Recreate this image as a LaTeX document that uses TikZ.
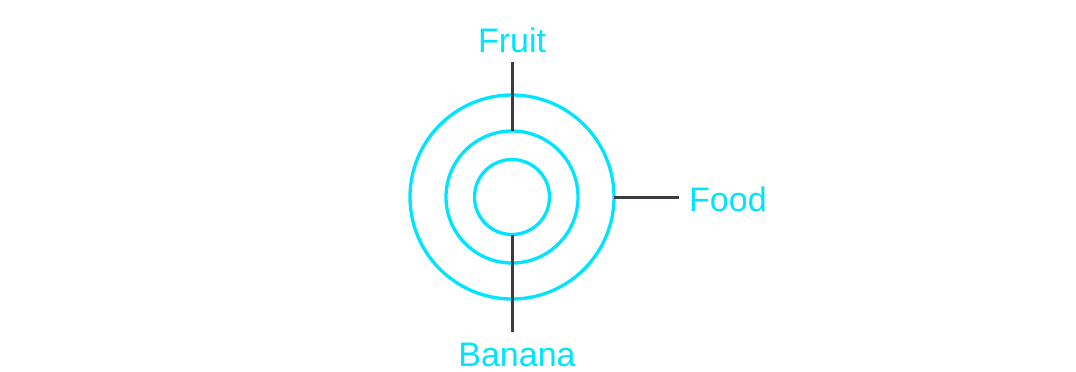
\documentclass[tikz,border=0pt]{standalone}
\usepackage{fontspec}
\setmainfont{Liberation Sans}
\definecolor{ringcyan}{RGB}{0,228,255}
\definecolor{stemgray}{RGB}{60,60,68}
\begin{document}
\begin{tikzpicture}[x=1pt,y=-1pt,
  ring/.style={circle,draw=ringcyan,line width=3.3pt,inner sep=0pt,outer sep=0pt},
  stem/.style={draw=stemgray,line width=3pt},
  lbl/.style={text=ringcyan,font=\fontsize{34}{40}\selectfont,inner sep=0pt}]
\useasboundingbox (0,0) rectangle (1076,372);
\coordinate (c) at (512,197);
\node[ring,minimum size=204pt] (outer) at (c) {};
\node[ring,minimum size=132pt] (mid) at (c) {};
\node[ring,minimum size=75pt] (inner) at (c) {};
\node[lbl,anchor=base] (fruit) at (512,52) {Fruit};
\node[lbl,anchor=base west] (food) at (689,211) {Food};
\node[lbl,anchor=base] (banana) at (517,366) {Banana};
\coordinate (ftop) at (512,62);
\coordinate (fdend) at (679,197);
\coordinate (bbot) at (512,332);
\draw[stem] (ftop) -- (mid.north);
\draw[stem] (outer.east) -- (fdend);
\draw[stem] (inner.south) -- (bbot);
\end{tikzpicture}
\end{document}
